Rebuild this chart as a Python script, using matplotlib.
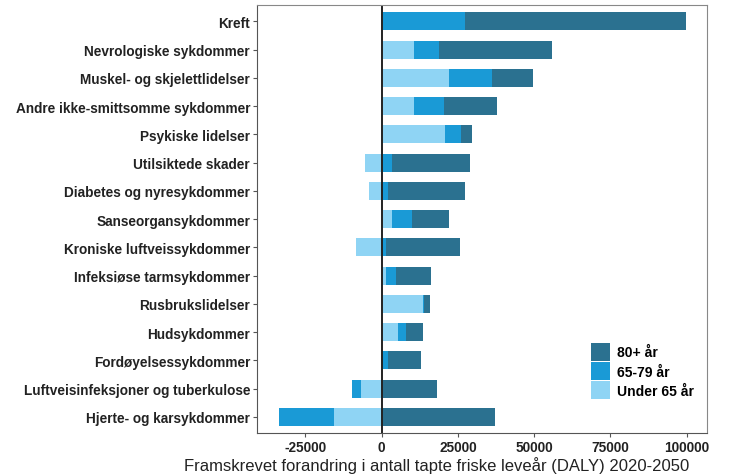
import numpy as np
import matplotlib.pyplot as plt

plt.rcParams['font.family'] = ['Liberation Sans', 'DejaVu Sans']

categories = ['Kreft', 'Nevrologiske sykdommer', 'Muskel- og skjelettlidelser',
              'Andre ikke-smittsomme sykdommer', 'Psykiske lidelser', 'Utilsiktede skader',
              'Diabetes og nyresykdommer', 'Sanseorgansykdommer', 'Kroniske luftveissykdommer',
              'Infeksiøse tarmsykdommer', 'Rusbrukslidelser', 'Hudsykdommer',
              'Fordøyelsessykdommer', 'Luftveisinfeksjoner og tuberkulose', 'Hjerte- og karsykdommer']

under65 = [500, 10700, 22100, 10700, 20900, -5500, -4000, 3300, -8200, 1600, 13500, 5400, 0, -6800, -15600]
age65_79 = [27000, 8000, 14100, 9800, 5300, 3300, 2200, 6700, 1600, 3300, 300, 2600, 2200, -2800, -18000]
age80 = [72100, 37100, 13300, 17400, 3400, 25800, 25000, 12100, 24200, 11400, 2000, 5500, 10600, 18300, 37300]

ticks = [-25000, 0, 25000, 50000, 75000, 100000]

colors = {'80+ år': '#2b7190', '65-79 år': '#1a9ad6', 'Under 65 år': '#8fd4f4'}

fig = plt.figure(figsize=(7.30, 4.77), dpi=100)
ax = fig.add_axes([0.352, 0.090, 0.616, 0.897])

y = np.arange(len(categories))
h = 0.64
pos_base = np.zeros(len(categories))
neg_base = np.zeros(len(categories))
bars = {}
for name, vals in [('Under 65 år', under65), ('65-79 år', age65_79), ('80+ år', age80)]:
    vals = np.array(vals, dtype=float)
    left = np.where(vals >= 0, pos_base, neg_base)
    bars[name] = ax.barh(y, vals, left=left, height=h, color=colors[name], linewidth=0)
    pos_base = pos_base + np.where(vals >= 0, vals, 0)
    neg_base = neg_base + np.where(vals < 0, vals, 0)

ax.axvline(0, color='#222222', lw=1.4)

ax.set_xlim(-40800, 106500)
ax.set_ylim(len(categories) - 0.43, -0.57)
ax.set_yticks(y)
ax.set_yticklabels(categories, fontsize=9.8, fontweight='bold', color='#222222')
ax.set_xticks(ticks)
ax.set_xticklabels([str(t) for t in ticks], fontsize=9.8, fontweight='bold', color='#222222')
ax.tick_params(axis='both', length=3, color='#555555', pad=2)
# x label sits left of the axes centre in the original
fig.text(437 / 730, 1 - 466 / 477, 'Framskrevet forandring i antall tapte friske leveår (DALY) 2020-2050',
         fontsize=12, color='#222222', ha='center', va='center')

for side in ['top', 'right']:
    ax.spines[side].set_color('#888888')
for side in ['left', 'bottom']:
    ax.spines[side].set_color('#555555')

ax.legend([bars['80+ år'], bars['65-79 år'], bars['Under 65 år']],
          ['80+ år', '65-79 år', 'Under 65 år'],
          loc='lower right', bbox_to_anchor=(1.0, 0.05), frameon=False,
          prop={'size': 10, 'weight': 'bold'}, handlelength=1.4, handleheight=1.6,
          handletextpad=0.5, labelspacing=0.1)

fig.savefig('out.png', dpi=100)
